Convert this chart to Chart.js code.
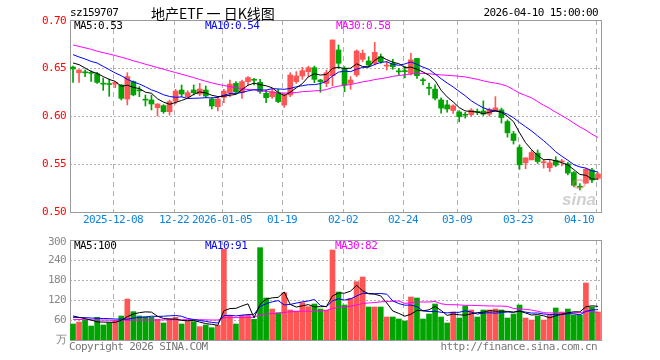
<!DOCTYPE html>
<html><head><meta charset="utf-8">
<script src="https://cdn.jsdelivr.net/npm/chart.js@4.4.1/dist/chart.umd.min.js"></script>
<style>
html,body{margin:0;padding:0;background:#fff;}
body{width:660px;height:360px;position:relative;overflow:hidden;}
canvas{position:absolute;left:0;}
#c1{top:0;}
#c2{top:230px;}
.t{position:absolute;white-space:nowrap;font-family:"DejaVu Sans Mono",monospace;font-size:11px;letter-spacing:-0.6px;line-height:14px;height:14px;}
</style></head><body>
<canvas id="c1" width="660" height="240"></canvas>
<canvas id="c2" width="660" height="130"></canvas>
<div class="t" style="left:70px;top:6px;color:#000;">sz159707</div>
<div class="t" style="left:151px;top:4px;font-family:'Noto Sans CJK SC',sans-serif;font-size:14px;letter-spacing:0;line-height:18px;height:18px;color:#000;white-space:pre;">地产ETF 一 日K线图</div>
<div class="t" style="right:62px;top:6px;color:#000;">2026-04-10 15:00:00</div>
<div class="t" id="pl5" style="left:74px;top:19px;color:#000;"></div>
<div class="t" id="pl10" style="left:205px;top:19px;color:#0000ff;"></div>
<div class="t" id="pl30" style="left:336px;top:19px;color:#ff00ff;"></div>
<div class="t" id="vl5" style="left:74px;top:239px;color:#000;"></div>
<div class="t" id="vl10" style="left:205px;top:239px;color:#0000ff;"></div>
<div class="t" id="vl30" style="left:335px;top:239px;color:#ff00ff;"></div>
<div class="t" style="left:69px;top:340px;color:#777;">Copyright 2026 SINA.COM</div>
<div class="t" style="right:63px;top:340px;color:#777;">http://finance.sina.com.cn</div>
<script>
// ---------------- data ----------------
const dates = [
'2025-11-27','2025-11-28',
'2025-12-01','2025-12-02','2025-12-03','2025-12-04','2025-12-05','2025-12-08','2025-12-09','2025-12-10','2025-12-11','2025-12-12',
'2025-12-15','2025-12-16','2025-12-17','2025-12-18','2025-12-19','2025-12-22','2025-12-23','2025-12-24','2025-12-25','2025-12-26',
'2025-12-29','2025-12-30','2025-12-31',
'2026-01-05','2026-01-06','2026-01-07','2026-01-08','2026-01-09','2026-01-12','2026-01-13','2026-01-14','2026-01-15','2026-01-16',
'2026-01-19','2026-01-20','2026-01-21','2026-01-22','2026-01-23','2026-01-26','2026-01-27','2026-01-28','2026-01-29','2026-01-30',
'2026-02-02','2026-02-03','2026-02-04','2026-02-05','2026-02-06','2026-02-09','2026-02-10','2026-02-11','2026-02-12','2026-02-13',
'2026-02-24','2026-02-25','2026-02-26','2026-02-27',
'2026-03-02','2026-03-03','2026-03-04','2026-03-05','2026-03-06','2026-03-09','2026-03-10','2026-03-11','2026-03-12','2026-03-13',
'2026-03-16','2026-03-17','2026-03-18','2026-03-19','2026-03-20','2026-03-23','2026-03-24','2026-03-25','2026-03-26','2026-03-27',
'2026-03-30','2026-03-31','2026-04-01','2026-04-02','2026-04-03','2026-04-07','2026-04-08','2026-04-09','2026-04-10'];

const opens = [0.651,0.645,0.646,0.645,0.644,0.6338,0.6334,0.6333,0.6323,0.6177,
0.6358,0.6266,0.6169,0.6167,0.6087,0.6108,0.6045,0.6156,0.6271,0.6201,
0.6271,0.6229,0.6271,0.6177,0.6097,0.6194,0.6243,0.634,0.6243,0.6358,
0.6378,0.6351,0.6236,0.6201,0.6243,0.6115,0.6219,0.6358,0.6417,0.6462,
0.6503,0.6375,0.634,0.642,0.6688,0.6497,0.634,0.6427,0.659,0.6573,
0.6549,0.6618,0.652,0.6549,0.6464,0.6466,0.6444,0.660,0.6372,0.6292,
0.628,0.6168,0.6116,0.6058,0.6042,0.6012,0.6015,0.6042,0.6052,0.6019,
0.6047,0.6064,0.5942,0.5815,0.5672,0.5512,0.5543,0.5613,0.5513,0.5462,
0.5538,0.5522,0.5503,0.5411,0.5262,0.530,0.5438,0.5351];
const highs = [0.652,0.648,0.648,0.647,0.6455,0.6396,0.6385,0.636,0.633,0.6451,
0.6365,0.6306,0.6219,0.6219,0.6128,0.6118,0.6167,0.6278,0.6323,0.6264,
0.6323,0.634,0.6313,0.619,0.6201,0.6278,0.6375,0.6358,0.6375,0.641,
0.6392,0.6382,0.6271,0.6278,0.6278,0.6236,0.6451,0.6462,0.6507,0.652,
0.652,0.6382,0.6479,0.6792,0.674,0.6514,0.641,0.6688,0.6688,0.6618,
0.6767,0.6646,0.6566,0.659,0.6497,0.6517,0.6653,0.660,0.6394,0.6342,
0.6325,0.619,0.6162,0.6116,0.6056,0.6038,0.6077,0.6073,0.6158,0.6083,
0.6202,0.6083,0.596,0.584,0.570,0.5566,0.5643,0.5646,0.5547,0.5543,
0.5576,0.5549,0.5517,0.5422,0.5295,0.5455,0.5455,0.541];
const lows = [0.635,0.635,0.641,0.636,0.634,0.6267,0.6205,0.6295,0.6167,0.6115,
0.621,0.6201,0.6104,0.6063,0.600,0.6028,0.601,0.6125,0.6201,0.619,
0.6219,0.6212,0.619,0.6073,0.6052,0.6139,0.6201,0.6243,0.6184,0.6323,
0.6323,0.6236,0.6139,0.6184,0.6139,0.609,0.6201,0.634,0.6382,0.641,
0.6347,0.6247,0.6306,0.6313,0.6497,0.6253,0.6278,0.641,0.6566,0.6514,
0.6531,0.6549,0.6479,0.6486,0.6427,0.6396,0.6427,0.6392,0.6325,0.622,
0.6168,0.603,0.604,0.6026,0.5939,0.5978,0.5995,0.6014,0.6005,0.5998,
0.6047,0.5926,0.578,0.5708,0.5443,0.5451,0.5543,0.5505,0.5457,0.5422,
0.5474,0.548,0.5387,0.5265,0.523,0.530,0.5306,0.534];
const closes = [0.649,0.648,0.645,0.6445,0.635,0.6332,0.6328,0.635,0.6184,0.641,
0.622,0.6262,0.6165,0.6125,0.6125,0.6045,0.615,0.626,0.6229,0.6243,
0.6243,0.6281,0.6208,0.6104,0.6177,0.626,0.6333,0.625,0.6358,0.640,
0.6372,0.6254,0.6191,0.6253,0.615,0.6219,0.6427,0.6417,0.6472,0.6503,
0.6382,0.6358,0.6451,0.6792,0.6549,0.6323,0.6375,0.6677,0.6653,0.6531,
0.6663,0.6566,0.6524,0.6514,0.646,0.6462,0.6585,0.642,0.6368,0.6288,
0.6185,0.6082,0.6073,0.6106,0.5992,0.6008,0.6061,0.6038,0.602,0.6068,
0.6085,0.5983,0.5825,0.5745,0.5492,0.5564,0.562,0.5526,0.5517,0.5512,
0.5488,0.5526,0.5405,0.5278,0.5258,0.5446,0.5333,0.5396];
// volume, 万
const volumes = [48,54,60,42,68,45,52,58,72,123,
85,72,70,68,62,51,64,68,48,58,
55,40,45,37,44,272,74,48,74,74,
62,277,126,93,82,142,90,87,112,100,
108,93,90,270,144,105,125,175,189,99,
99,99,69,69,63,57,129,126,63,78,
108,69,51,84,66,102,90,69,90,90,
93,90,66,78,105,66,60,72,60,75,
96,84,93,75,75,171,99,84];

// moving-average values before the window is full
const ma5Head  = [0.6552,0.6535,0.650,0.6465];
const ma10Head = [0.6639,0.6615,0.6594,0.6569,0.6552,0.6517,0.6483,0.6448,0.642];
const ma30Head = [0.674,0.6725,0.671,0.6695,0.6675,0.666,0.6645,0.663,0.6612,0.6595,
0.6575,0.6558,0.654,0.6522,0.6505,0.6487,0.647,0.6452,0.6435,0.6417,
0.640,0.638,0.6362,0.6345,0.633,0.6318,0.6305,0.6295,0.6285];
const vma5Head  = [72,68,64,60];
const vma10Head = [68,67.5,67,66,65,64.5,64,63,62.5];
const vma30Head = [62,61.5,61,60.5,60,60,59.5,59,59,59.5,60,60,60,60,60,60.5,60.5,61,61,61,61,61,60.5,60,60,67,67,67,67.5];

const tickDates  = ['2025-12-08','2025-12-22','2026-01-05','2026-01-19','2026-02-02','2026-02-24','2026-03-09','2026-03-23','2026-04-10'];
const tickLabels = ['2025-12-08','12-22','2026-01-05','01-19','02-02','02-24','03-09','03-23','04-10'];
const priceTicks = [0.50,0.55,0.60,0.65,0.70];
const volTicks   = [0,60,120,180,240,300];
const volTickLabels = ['万','60','120','180','240','300'];
const priceLegend = ['MA5:0.53','MA10:0.54','MA30:0.58'];
const volLegend   = ['MA5:100','MA10:91','MA30:82'];

// ---------------- helpers ----------------
const RED = '#ff5555', GREEN = '#00a400';
const barColor = closes.map((c,i)=> c >= opens[i] ? RED : GREEN);
function movingAvg(src, n, head){
  return src.map((v,i)=>{
    if(i < n-1) return head[i];
    let s = 0; for(let k=i-n+1;k<=i;k++) s += src[k];
    return s/n;
  });
}
const tickIdx = tickDates.map(d=>dates.indexOf(d));
const MONO = '11px "DejaVu Sans Mono", monospace';

function framePlugin(opt){
  return {
    id: 'frame_'+opt.name,
    beforeDatasetsDraw(chart){
      const {ctx, chartArea:a, scales:{x,y}} = chart;
      ctx.save();
      ctx.lineWidth = 1;
      ctx.strokeStyle = '#b0b0b0';
      ctx.setLineDash([2,2]);
      opt.yTicks.forEach(v=>{
        const py = Math.round(y.getPixelForValue(v)) + 0.5;
        if(py > a.top + 2 && py < a.bottom - 2){
          ctx.beginPath(); ctx.moveTo(a.left, py); ctx.lineTo(a.right, py); ctx.stroke();
        }
      });
      ctx.setLineDash([5,4]);
      tickIdx.forEach(i=>{
        const px = Math.round(x.getPixelForValue(i)) - 2 + 0.5;
        ctx.beginPath(); ctx.moveTo(px, a.top); ctx.lineTo(px, a.bottom); ctx.stroke();
      });
      ctx.setLineDash([]);
      ctx.strokeStyle = '#9a9a9a';
      ctx.strokeRect(Math.round(a.left)+0.5, Math.round(a.top)+0.5, Math.round(a.right-a.left), Math.round(a.bottom-a.top));
      ctx.restore();
    },
    afterDraw(chart){
      const {ctx, chartArea:a, scales:{x,y}} = chart;
      ctx.save();
      ctx.font = MONO;
      try{ ctx.letterSpacing = '-0.6px'; }catch(e){}
      ctx.textAlign = 'right'; ctx.textBaseline = 'middle';
      ctx.fillStyle = opt.yColor;
      opt.yTicks.forEach((v,k)=>{
        let py = y.getPixelForValue(v);
        py = Math.max(py, a.top + opt.topShift);
        ctx.fillText(opt.yLabels[k], a.left - 4, py);
      });
      if(opt.xLabels){
        ctx.fillStyle = '#0a84e0';
        ctx.textAlign = 'left';
        tickIdx.forEach((i,k)=>{
          const px = Math.round(x.getPixelForValue(i)) - 2;
          const w = ctx.measureText(tickLabels[k]).width;
          let left = px - w/2;
          if(left + w > a.right - 7) left = a.right - 7 - w;
          ctx.fillText(tickLabels[k], left, a.bottom + 8);
        });
      }
      if(opt.watermark){
        ctx.font = 'italic bold 17px "Liberation Sans", sans-serif';
        try{ ctx.letterSpacing = '0px'; }catch(e){}
        ctx.textAlign = 'center';
        ctx.fillStyle = 'rgba(170,170,170,0.55)';
        ctx.fillText('sina', a.right - 22, a.bottom - 12);
        ctx.strokeStyle = 'rgba(240,110,110,0.45)';
        ctx.lineWidth = 2;
        ctx.beginPath(); ctx.ellipse(a.right - 22, a.bottom - 28, 6, 4, 0, 0, Math.PI*2); ctx.stroke();
      }
      ctx.restore();
    }
  };
}

function lineDs(data, color){
  return {type:'line', data, borderColor:color, borderWidth:1, pointRadius:0, tension:0, fill:false};
}
const hiddenScales = (min,max)=>({
  x:{display:false, offset:true, grid:{display:false}},
  y:{display:false, min, max}
});

// ---------------- price chart ----------------
const ma5 = movingAvg(closes,5,ma5Head), ma10 = movingAvg(closes,10,ma10Head), ma30 = movingAvg(closes,30,ma30Head);
new Chart(document.getElementById('c1'), {
  type:'bar',
  data:{
    labels: dates,
    datasets:[
      lineDs(ma5,'#000000'),
      lineDs(ma10,'#0000ff'),
      lineDs(ma30,'#ff00ff'),
      {data: opens.map((o,i)=>[o, closes[i]]), backgroundColor: barColor, barThickness:5, minBarLength:1, grouped:false, borderWidth:0},
      {data: lows.map((l,i)=>[l, highs[i]]), backgroundColor: barColor, barThickness:1, grouped:false, borderWidth:0}
    ]
  },
  options:{
    responsive:false, animation:false, devicePixelRatio:1,
    layout:{padding:{left:70, right:59, top:20, bottom:28}},
    plugins:{legend:{display:false}, tooltip:{enabled:false}},
    scales: hiddenScales(0.50, 0.70)
  },
  plugins:[framePlugin({name:'p', yTicks:priceTicks, yLabels:priceTicks.map(v=>v.toFixed(2)), yColor:'#ff0000', topShift:1, xLabels:true, watermark:true})]
});

// ---------------- volume chart ----------------
const vma5 = movingAvg(volumes,5,vma5Head), vma10 = movingAvg(volumes,10,vma10Head), vma30 = movingAvg(volumes,30,vma30Head);
new Chart(document.getElementById('c2'), {
  type:'bar',
  data:{
    labels: dates,
    datasets:[
      lineDs(vma5,'#000000'),
      lineDs(vma10,'#0000ff'),
      lineDs(vma30,'#ff00ff'),
      {data: volumes, backgroundColor: barColor, barThickness:5, grouped:false, borderWidth:0}
    ]
  },
  options:{
    responsive:false, animation:false, devicePixelRatio:1,
    layout:{padding:{left:70, right:59, top:10, bottom:20}},
    plugins:{legend:{display:false}, tooltip:{enabled:false}},
    scales: hiddenScales(0, 300)
  },
  plugins:[framePlugin({name:'v', yTicks:volTicks, yLabels:volTickLabels, yColor:'#888888', topShift:2, xLabels:false, watermark:false})]
});

document.getElementById('pl5').textContent = priceLegend[0];
document.getElementById('pl10').textContent = priceLegend[1];
document.getElementById('pl30').textContent = priceLegend[2];
document.getElementById('vl5').textContent = volLegend[0];
document.getElementById('vl10').textContent = volLegend[1];
document.getElementById('vl30').textContent = volLegend[2];
</script>
</body></html>
